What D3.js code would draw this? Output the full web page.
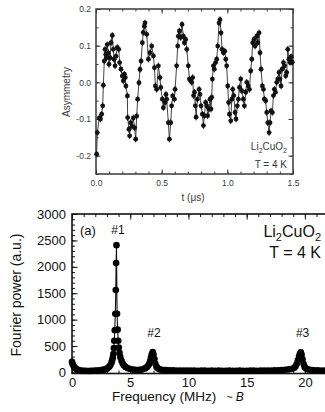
<!DOCTYPE html>
<html>
<head>
<meta charset="utf-8">
<script src="https://cdn.jsdelivr.net/npm/d3@7"></script>
<style>
  html, body { margin: 0; padding: 0; background: #fff; }
  svg { display: block; font-family: "Liberation Sans", Arial, sans-serif; }
</style>
</head>
<body>
<svg id="chart" width="325" height="412"></svg>
<script>
// --- muSR asymmetry, Li2CuO2 at T = 4 K ---
const timeUs = [
  0.005, 0.01, 0.025, 0.034, 0.043, 0.051, 0.056, 0.063, 0.069, 0.074, 0.081, 0.086, 0.094, 0.099,
  0.107, 0.114, 0.124, 0.132, 0.137, 0.145, 0.152, 0.162, 0.173, 0.18, 0.19, 0.2, 0.208, 0.216,
  0.223, 0.228, 0.239, 0.241, 0.251, 0.256, 0.264, 0.274, 0.284, 0.295, 0.302, 0.31, 0.317, 0.327,
  0.335, 0.343, 0.353, 0.36, 0.368, 0.373, 0.386, 0.399, 0.411, 0.424, 0.437, 0.445, 0.452, 0.462,
  0.475, 0.487, 0.493, 0.505, 0.513, 0.526, 0.533, 0.538, 0.551, 0.559, 0.569, 0.576, 0.584, 0.597,
  0.602, 0.614, 0.622, 0.627, 0.635, 0.645, 0.655, 0.665, 0.673, 0.683, 0.691, 0.703, 0.711, 0.72,
  0.729, 0.736, 0.743, 0.75, 0.756, 0.762, 0.772, 0.785, 0.792, 0.8, 0.81, 0.818, 0.825, 0.835,
  0.843, 0.85, 0.861, 0.868, 0.876, 0.881, 0.886, 0.894, 0.901, 0.911, 0.919, 0.927, 0.937, 0.944,
  0.952, 0.96, 0.97, 0.98, 0.988, 0.995, 1.003, 1.01, 1.016, 1.026, 1.034, 1.041, 1.049, 1.059,
  1.066, 1.076, 1.084, 1.092, 1.102, 1.109, 1.122, 1.13, 1.14, 1.148, 1.16, 1.168, 1.178, 1.186,
  1.193, 1.203, 1.211, 1.224, 1.232, 1.242, 1.249, 1.257, 1.267, 1.275, 1.282, 1.292, 1.3, 1.308,
  1.318, 1.325, 1.333, 1.343, 1.351, 1.358, 1.366, 1.376, 1.384, 1.394, 1.401, 1.409, 1.417, 1.427,
  1.435, 1.445, 1.452, 1.46, 1.47, 1.478, 1.486, 1.494
];
const asymmetry = [
  -0.196, -0.137, -0.097, -0.1, -0.087, -0.064, -0.008, 0.058, 0.09, 0.076, 0.067, 0.103, 0.08, 0.049,
  0.067, 0.108, 0.128, 0.09, 0.063, 0.045, 0.071, 0.095, 0.09, 0.054, 0.036, 0.017, 0.004, 0.022,
  0.013, -0.01, -0.037, -0.096, -0.128, -0.146, -0.11, -0.12, -0.097, -0.124, -0.155, -0.092, -0.046, -0.001,
  0.035, 0.058, 0.108, 0.136, 0.153, 0.162, 0.131, 0.063, 0.081, 0.099, 0.072, 0.04, -0.01, -0.019,
  0.045, 0.013, -0.014, -0.046, -0.069, -0.055, -0.033, -0.046, -0.11, -0.155, -0.11, -0.064, -0.037, -0.046,
  -0.019, 0.045, 0.099, 0.126, 0.14, 0.122, 0.158, 0.126, 0.108, 0.117, 0.09, 0.045, 0.009, 0.004,
  0.0, 0.013, -0.036, -0.027, -0.064, -0.095, -0.046, -0.019, -0.033, -0.064, -0.087, -0.118, -0.091, -0.055,
  -0.064, -0.091, -0.073, -0.046, -0.073, -0.041, 0.009, 0.045, 0.036, 0.054, 0.063, 0.099, 0.162, 0.171,
  0.135, 0.09, 0.081, 0.085, 0.063, 0.045, -0.01, -0.055, -0.087, -0.105, -0.046, -0.019, -0.036, -0.082,
  -0.1, -0.064, -0.046, -0.014, 0.009, -0.023, -0.046, -0.064, -0.027, 0.0, -0.01, -0.019, 0.031, 0.063,
  0.108, 0.117, 0.099, 0.126, 0.108, 0.135, 0.081, 0.036, -0.01, -0.019, -0.046, -0.05, -0.082, -0.11,
  -0.137, -0.11, -0.078, -0.082, -0.036, -0.019, -0.027, 0.0, 0.009, 0.027, 0.009, -0.01, 0.036, 0.054,
  0.045, 0.018, 0.027, 0.09, 0.063, 0.054, 0.07, 0.055
];
const asymErr = 0.009;
const timeTicks = [0, 0.5, 1.0, 1.5];
const asymTicks = [-0.2, -0.1, 0.0, 0.1, 0.2];

// --- Fourier spectrum ---
const freqMHz = [
  0.0, 0.05, 0.1, 0.2, 0.3, 0.4, 0.5, 0.6, 0.8, 1.0, 1.2, 1.4, 1.6, 1.8, 2.0, 2.2, 2.4, 2.6, 2.8, 2.9,
  3.0, 3.1, 3.2, 3.3, 3.4, 3.45, 3.5, 3.55, 3.6, 3.63, 3.67, 3.72, 3.76, 3.79, 3.82, 3.87, 3.92, 3.97,
  4.02, 4.08, 4.15, 4.25, 4.35, 4.45, 4.6, 4.8, 5.0, 5.2, 5.4, 5.6, 5.8, 6.0, 6.2, 6.3, 6.4, 6.5,
  6.6, 6.7, 6.78, 6.85, 6.93, 7.0, 7.08, 7.16, 7.25, 7.35, 7.5, 7.7, 7.9, 8.1,
  8.4, 8.7, 9.0, 9.3, 9.6, 9.9, 10.2, 10.5, 10.8, 11.1, 11.4, 11.7, 12.0, 12.3, 12.6, 12.9, 13.2, 13.5,
  13.8, 14.1, 14.4, 14.7, 15.0, 15.3, 15.6, 15.9, 16.2, 16.5, 16.8, 17.1, 17.4, 17.7, 18.0, 18.3, 18.6,
  18.9, 19.1, 19.2, 19.3, 19.4, 19.5, 19.57, 19.65, 19.72, 19.8, 19.88, 19.97, 20.07, 20.2, 20.4, 20.6,
  20.8, 21.1, 21.4, 21.7, 22.0, 22.3
];
const fourierPower = [
  200, 165, 135, 100, 75, 58, 48, 40, 34, 30, 31, 28, 30, 32, 34, 37, 42, 48, 56, 62,
  72, 90, 110, 140, 190, 230, 280, 350, 460, 600, 800, 1110, 1560, 2070, 2410, 1110, 810, 600,
  470, 370, 290, 220, 170, 135, 105, 80, 65, 55, 48, 45, 48, 55, 70, 80, 95, 115,
  150, 210, 280, 345, 385, 340, 255, 165, 110, 82, 62, 52, 46, 43,
  42, 40, 38, 36, 38, 35, 34, 36, 33, 35, 34, 32, 34, 33, 35, 32, 33, 34,
  32, 33, 35, 33, 32, 34, 36, 33, 35, 37, 36, 38, 40, 42, 45, 50, 58,
  70, 90, 115, 160, 230, 300, 350, 380, 335, 250, 165, 110, 80, 62, 52, 46,
  42, 39, 37, 36, 35, 35
];
const freqTicks = [0, 5, 10, 15, 20];
const powerTicks = [0, 500, 1000, 1500, 2000, 2500, 3000];
const peakLabels = ["#1", "#2", "#3"];
const peakLabelFreq = [3.95, 7.04, 19.8];
const peakLabelPower = [2620, 670, 670];

const svg = d3.select('#chart');

// small helper: inward tick marks with no labels
function tickRow(g, axisFn, scale, values, size, transform, stroke) {
  g.append('g')
    .attr('transform', transform)
    .call(axisFn(scale).tickValues(values).tickSize(size).tickFormat(''))
    .call(a => a.select('.domain').remove())
    .call(a => a.selectAll('line').attr('stroke', stroke));
}

// ================= top panel =================
const xT = d3.scaleLinear().domain([0, 1.5]).range([96, 293]);
const yT = d3.scaleLinear().domain([-0.25, 0.2]).range([174, 9]);
const colT = '#3a3a3a';
const gT = svg.append('g');

const tMinor = d3.range(0, 1.51, 0.1);
const aMinor = d3.range(-0.25, 0.201, 0.05);
tickRow(gT, d3.axisBottom, xT, tMinor, -2.5, 'translate(0,174)', colT);
tickRow(gT, d3.axisTop, xT, tMinor, -2.5, 'translate(0,9)', colT);
tickRow(gT, d3.axisLeft, yT, aMinor, -2.5, 'translate(96,0)', colT);
tickRow(gT, d3.axisRight, yT, aMinor, -2.5, 'translate(293,0)', colT);
tickRow(gT, d3.axisBottom, xT, timeTicks, -4.5, 'translate(0,174)', colT);
tickRow(gT, d3.axisTop, xT, timeTicks, -4.5, 'translate(0,9)', colT);
tickRow(gT, d3.axisLeft, yT, asymTicks, -4.5, 'translate(96,0)', colT);
tickRow(gT, d3.axisRight, yT, asymTicks, -4.5, 'translate(293,0)', colT);

gT.append('g')
  .attr('transform', 'translate(0,174)')
  .call(d3.axisBottom(xT).tickValues(timeTicks).tickSize(0).tickPadding(6).tickFormat(d => d.toFixed(1)))
  .call(a => a.select('.domain').remove())
  .selectAll('text').attr('font-size', 8.5).attr('fill', colT).attr('font-family', null);

gT.append('g')
  .attr('transform', 'translate(96,0)')
  .call(d3.axisLeft(yT).tickValues(asymTicks).tickSize(0).tickPadding(5).tickFormat(d => d.toFixed(1)))
  .call(a => a.select('.domain').remove())
  .selectAll('text').attr('font-size', 8.5).attr('fill', colT).attr('font-family', null);

gT.append('rect')
  .attr('x', 96).attr('y', 9).attr('width', 197).attr('height', 165)
  .attr('fill', 'none').attr('stroke', colT).attr('stroke-width', 1.5);

const ptsT = timeUs.map((t, i) => ({ t, a: asymmetry[i] }));

gT.append('path')
  .datum(ptsT)
  .attr('fill', 'none')
  .attr('stroke', '#444')
  .attr('stroke-width', 1)
  .attr('d', d3.line().x(d => xT(d.t)).y(d => yT(d.a)));

gT.selectAll('line.err')
  .data(ptsT)
  .enter().append('line')
  .attr('class', 'err')
  .attr('x1', d => xT(d.t)).attr('x2', d => xT(d.t))
  .attr('y1', d => yT(d.a - asymErr)).attr('y2', d => yT(d.a + asymErr))
  .attr('stroke', '#222').attr('stroke-width', 1);

gT.selectAll('circle')
  .data(ptsT)
  .enter().append('circle')
  .attr('cx', d => xT(d.t))
  .attr('cy', d => yT(d.a))
  .attr('r', 2.4)
  .attr('fill', '#111');

gT.append('text')
  .attr('x', 193).attr('y', 201)
  .attr('text-anchor', 'middle').attr('font-size', 10).attr('fill', colT)
  .text('t (μs)');

gT.append('text')
  .attr('transform', 'translate(70,92) rotate(-90)')
  .attr('text-anchor', 'middle').attr('font-size', 10).attr('fill', colT)
  .text('Asymmetry');

const lblT = gT.append('text')
  .attr('x', 287).attr('y', 150)
  .attr('text-anchor', 'end').attr('font-size', 10).attr('fill', colT);
lblT.append('tspan').text('Li');
lblT.append('tspan').attr('dy', 2.5).attr('font-size', 7).text('2');
lblT.append('tspan').attr('dy', -2.5).text('CuO');
lblT.append('tspan').attr('dy', 2.5).attr('font-size', 7).text('2');

gT.append('text')
  .attr('x', 287).attr('y', 168)
  .attr('text-anchor', 'end').attr('font-size', 10).attr('fill', colT)
  .text('T = 4 K');

// ================= bottom panel =================
const xB = d3.scaleLinear().domain([0, 22.5]).range([72, 334]);
const yB = d3.scaleLinear().domain([-20, 3000]).range([373.5, 214]);
const colB = '#111';
const gB = svg.append('g');

const fMinor = d3.range(0, 22.6, 1);
const pMinor = d3.range(0, 3001, 100);
tickRow(gB, d3.axisBottom, xB, fMinor, -3, 'translate(0,373.5)', colB);
tickRow(gB, d3.axisTop, xB, fMinor, -3, 'translate(0,214)', colB);
tickRow(gB, d3.axisLeft, yB, pMinor, -3, 'translate(72,0)', colB);
tickRow(gB, d3.axisBottom, xB, freqTicks, -5.5, 'translate(0,373.5)', colB);
tickRow(gB, d3.axisTop, xB, freqTicks, -5.5, 'translate(0,214)', colB);
tickRow(gB, d3.axisLeft, yB, powerTicks, -5.5, 'translate(72,0)', colB);

gB.append('g')
  .attr('transform', 'translate(0,373.5)')
  .call(d3.axisBottom(xB).tickValues(freqTicks).tickSize(0).tickPadding(4.5).tickFormat(d3.format('d')))
  .call(a => a.select('.domain').remove())
  .selectAll('text').attr('font-size', 13).attr('fill', colB).attr('font-family', null);

gB.append('g')
  .attr('transform', 'translate(72,0)')
  .call(d3.axisLeft(yB).tickValues(powerTicks).tickSize(0).tickPadding(6).tickFormat(d3.format('d')))
  .call(a => a.select('.domain').remove())
  .selectAll('text').attr('font-size', 13).attr('fill', colB).attr('font-family', null);

gB.append('rect')
  .attr('x', 72).attr('y', 214).attr('width', 262).attr('height', 159.5)
  .attr('fill', 'none').attr('stroke', colB).attr('stroke-width', 1.6);

const ptsB = freqMHz.map((f, i) => ({ f, p: fourierPower[i] }));

gB.append('path')
  .datum(ptsB)
  .attr('fill', 'none')
  .attr('stroke', '#111')
  .attr('stroke-width', 1.1)
  .attr('d', d3.line().x(d => xB(d.f)).y(d => yB(d.p)));

gB.selectAll('circle')
  .data(ptsB)
  .enter().append('circle')
  .attr('cx', d => xB(d.f))
  .attr('cy', d => yB(d.p))
  .attr('r', 3.3)
  .attr('fill', '#000');

gB.selectAll('text.peak')
  .data(peakLabels)
  .enter().append('text')
  .attr('class', 'peak')
  .attr('x', (d, i) => xB(peakLabelFreq[i]))
  .attr('y', (d, i) => yB(peakLabelPower[i]))
  .attr('text-anchor', 'middle').attr('font-size', 12).attr('fill', colB)
  .text(d => d);

gB.append('text')
  .attr('x', 80).attr('y', 235)
  .attr('font-size', 13).attr('fill', colB)
  .text('(a)');

const lblB = gB.append('text')
  .attr('x', 321).attr('y', 237)
  .attr('text-anchor', 'end').attr('font-size', 16).attr('fill', colB);
lblB.append('tspan').text('Li');
lblB.append('tspan').attr('dy', 4).attr('font-size', 11).text('2');
lblB.append('tspan').attr('dy', -4).text('CuO');
lblB.append('tspan').attr('dy', 4).attr('font-size', 11).text('2');

gB.append('text')
  .attr('x', 321).attr('y', 258)
  .attr('text-anchor', 'end').attr('font-size', 16).attr('fill', colB)
  .text('T = 4 K');

const xl = gB.append('text')
  .attr('x', 112).attr('y', 401)
  .attr('font-size', 13.5).attr('fill', colB);
xl.append('tspan').text('Frequency (MHz)');
xl.append('tspan').attr('dx', 10).attr('font-size', 11).text('~ ');
xl.append('tspan').attr('font-style', 'italic').attr('font-size', 12).text('B');

gB.append('text')
  .attr('transform', 'translate(21,295) rotate(-90)')
  .attr('text-anchor', 'middle').attr('font-size', 14).attr('fill', colB)
  .text('Fourier power (a.u.)');
</script>
</body>
</html>
